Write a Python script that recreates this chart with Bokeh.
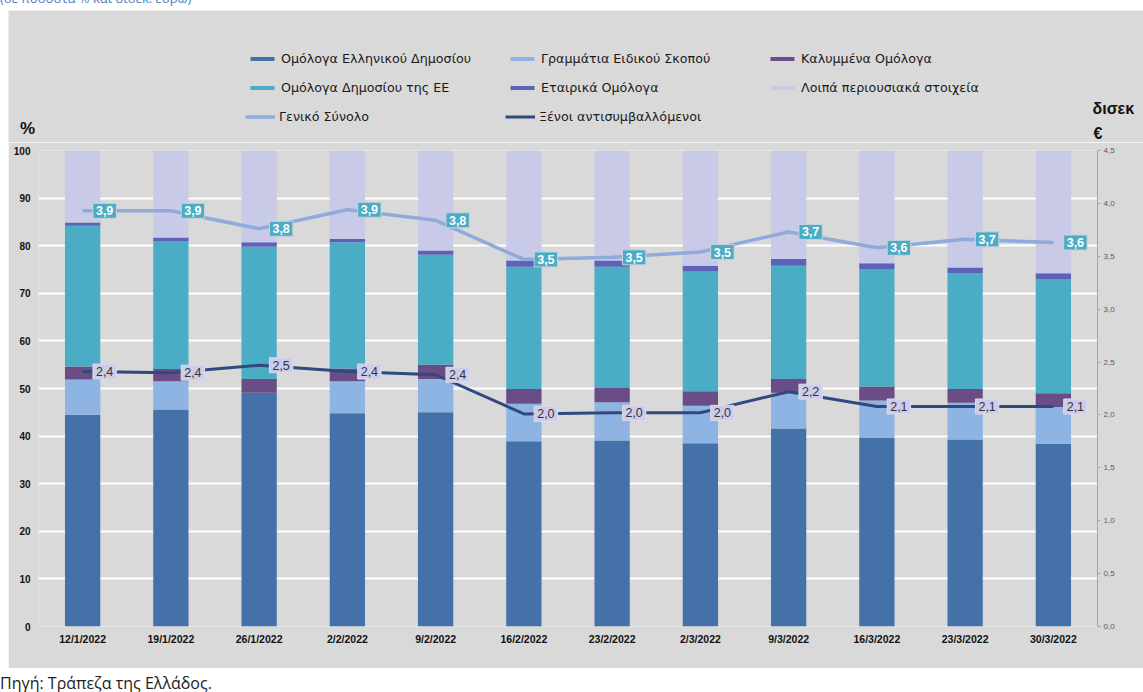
from bokeh.plotting import figure
from bokeh.models import (ColumnDataSource, Range1d, LinearAxis, FixedTicker, Legend, LegendItem,
                          Label, CustomJSTickFormatter, Div, Spacer)
from bokeh.layouts import column, row
from bokeh.core.properties import value
from bokeh.embed import file_html
from bokeh.resources import INLINE

dates = ["12/1/2022", "19/1/2022", "26/1/2022", "2/2/2022", "9/2/2022", "16/2/2022",
         "23/2/2022", "2/3/2022", "9/3/2022", "16/3/2022", "23/3/2022", "30/3/2022"]
greek_bonds = [44.5, 45.6, 49.1, 44.8, 45.0, 38.9, 39.1, 38.5, 41.6, 39.6, 39.3, 38.4]
special_bills = [7.4, 5.9, 0.0, 6.7, 7.0, 7.9, 8.0, 7.9, 7.5, 7.9, 7.7, 7.7]
covered_bonds = [2.7, 2.6, 2.9, 2.7, 3.0, 3.1, 3.0, 3.0, 2.9, 2.9, 2.9, 2.9]
eu_bonds = [29.6, 26.8, 27.8, 26.5, 23.1, 25.7, 25.5, 25.2, 23.8, 24.6, 24.3, 23.9]
corporate_bonds = [0.7, 0.8, 0.9, 0.7, 0.9, 1.3, 1.3, 1.2, 1.4, 1.3, 1.2, 1.3]
other_assets = [15.1, 18.3, 19.3, 18.6, 21.0, 23.1, 23.1, 24.2, 22.8, 23.7, 24.6, 25.8]
total_bn = [3.93, 3.93, 3.76, 3.94, 3.84, 3.47, 3.49, 3.54, 3.73, 3.58, 3.66, 3.63]
foreign_bn = [2.41, 2.40, 2.47, 2.41, 2.38, 2.01, 2.02, 2.02, 2.22, 2.08, 2.08, 2.08]

names = ["Ομόλογα Ελληνικού Δημοσίου", "Γραμμάτια Ειδικού Σκοπού", "Καλυμμένα Ομόλογα",
         "Ομόλογα Δημοσίου της ΕΕ", "Εταιρικά Ομόλογα", "Λοιπά περιουσιακά στοιχεία"]
line_names = ["Γενικό Σύνολο", "Ξένοι αντισυμβαλλόμενοι"]
keys = ["greek", "bills", "covered", "eu", "corp", "other"]
colors = ["#4472A8", "#8EB4E3", "#6A4C87", "#4BACC6", "#5C62B8", "#C9CAE8"]
line_colors = ["#8FAADB", "#2E4A7E"]

BG = "#D9D9D9"
FONT = "Liberation Sans"

src = ColumnDataSource(dict(
    date=dates, greek=greek_bonds, bills=special_bills, covered=covered_bonds,
    eu=eu_bonds, corp=corporate_bonds, other=other_assets,
    total=total_bn, foreign=foreign_bn,
    total_lbl=[f"{v:.1f}".replace(".", ",") for v in total_bn],
    foreign_lbl=[f"{v:.1f}".replace(".", ",") for v in foreign_bn],
))

# ---------------- main chart ----------------
p = figure(x_range=dates, y_range=Range1d(0, 100), width=1135, height=526,
           output_backend="svg", toolbar_location=None, frame_align=False,
           min_border_left=30, min_border_right=46, min_border_top=8, min_border_bottom=42)
p.extra_y_ranges = {"right": Range1d(0, 4.5)}
p.background_fill_color = BG
p.border_fill_color = BG
p.outline_line_color = None

p.vbar_stack(keys, x="date", width=0.4, color=colors, source=src, line_color=None)
p.line("date", "total", source=src, y_range_name="right", color=line_colors[0], line_width=3.5)
p.line("date", "foreign", source=src, y_range_name="right", color=line_colors[1], line_width=3)

p.text("date", "total", text="total_lbl", source=src, y_range_name="right",
       x_offset=22, text_align="center", text_baseline="middle",
       text_font=value(FONT), text_font_size="12.5px", text_font_style="bold", text_color="white",
       background_fill_color="#4BACC6", border_line_color="#C9D3DA", border_line_width=1,
       padding=3)
p.text("date", "foreign", text="foreign_lbl", source=src, y_range_name="right",
       x_offset=22, text_align="center", text_baseline="middle",
       text_font=value(FONT), text_font_size="12.5px", text_color="#333333",
       background_fill_color="#CDCDEB", border_line_color="#DCDCE8", border_line_width=1,
       padding=3)

p.xgrid.grid_line_color = None
p.ygrid.grid_line_color = "white"
p.ygrid.grid_line_width = 2
p.yaxis.ticker = FixedTicker(ticks=list(range(0, 101, 10)))
p.yaxis.axis_line_color = None
p.yaxis.major_tick_line_color = None
p.yaxis.major_tick_out = 0
p.yaxis.major_tick_in = 0
p.yaxis.minor_tick_line_color = None
p.yaxis.major_label_text_font = FONT
p.yaxis.major_label_text_font_style = "bold"
p.yaxis.major_label_text_font_size = "10px"
p.yaxis.major_label_text_color = "#111111"
p.yaxis.major_label_standoff = 8

p.xaxis.axis_line_color = None
p.xaxis.major_tick_line_color = None
p.xaxis.major_tick_out = 0
p.xaxis.major_tick_in = 0
p.xaxis.major_label_text_font = FONT
p.xaxis.major_label_text_font_style = "bold"
p.xaxis.major_label_text_font_size = "10.5px"
p.xaxis.major_label_text_color = "#111111"
p.xaxis.major_label_standoff = 6

ry = LinearAxis(y_range_name="right", ticker=FixedTicker(ticks=[0, 0.5, 1, 1.5, 2, 2.5, 3, 3.5, 4, 4.5]),
                formatter=CustomJSTickFormatter(code="return tick.toFixed(1).replace('.', ',');"))
ry.axis_line_color = "#A6A6A6"
ry.major_tick_line_color = "#A6A6A6"
ry.major_tick_in = 0
ry.major_tick_out = 3
ry.minor_tick_line_color = None
ry.major_label_text_font = FONT
ry.major_label_text_font_size = "8px"
ry.major_label_text_color = "#595959"
ry.major_label_standoff = 3
p.add_layout(ry, "right")

# ---------------- header strip: legend + unit labels ----------------
top = figure(x_range=Range1d(8, 1143), y_range=Range1d(142, 10), width=1135, height=132,
             output_backend="svg", toolbar_location=None, x_axis_type=None, y_axis_type=None,
             min_border=0, frame_align=False)
top.background_fill_color = BG
top.border_fill_color = BG
top.outline_line_color = None
top.grid.grid_line_color = None

# hidden proxies that only give the legend its swatches
swatches = [top.vbar(x="total", top="total", width=0.01, source=src, color=c, line_color=None,
                     visible=False) for c in colors]
line_sw = [top.line("total", "total", source=src, color=line_colors[0], line_width=3.5, visible=False),
           top.line("foreign", "foreign", source=src, color=line_colors[1], line_width=3, visible=False)]

rows_items = [
    [(names[0], swatches[0]), (names[1], swatches[1]), (names[2], swatches[2])],
    [(names[3], swatches[3]), (names[4], swatches[4]), (names[5], swatches[5])],
    [(line_names[0], line_sw[0]), (line_names[1], line_sw[1])],
]
row_pos = [(239, 76), (239, 47), (237, 18)]
for items, loc in zip(rows_items, row_pos):
    lg = Legend(items=[LegendItem(label=n, renderers=[r]) for n, r in items],
                orientation="horizontal", location=loc,
                glyph_width=30, glyph_height=5, label_height=5, label_width=222,
                label_standoff=4, spacing=4, padding=0, margin=0,
                border_line_color=None, background_fill_alpha=0, inactive_fill_alpha=0,
                label_text_font="DejaVu Sans", label_text_font_size="12.7px",
                label_text_color="#1a1a1a", label_text_baseline="middle")
    top.add_layout(lg, "center")

top.add_layout(Label(x=27, y=128, text="%", text_align="center", text_baseline="middle",
                     text_font=FONT, text_font_size="17px", text_font_style="bold",
                     text_color="#111111"))
top.add_layout(Label(x=1092, y=108, text="δισεκ", text_align="left", text_baseline="middle",
                     text_font=FONT, text_font_size="16px", text_font_style="bold",
                     text_color="#111111"))
top.add_layout(Label(x=1093, y=133, text="€", text_align="left", text_baseline="middle",
                     text_font=FONT, text_font_size="16px", text_font_style="bold",
                     text_color="#111111"))

# ---------------- page texts ----------------
title_div = Div(
    text='<div style="position:relative; top:-9px; left:0px; white-space:nowrap; '
         'font-family:\'Open Sans\', sans-serif; font-size:13px; line-height:14px; '
         'color:#4A7EBB;">(σε ποσοστά % και δισεκ. ευρώ)</div>',
    width=1143, height=10, margin=0, styles={"overflow": "hidden"})

src_div = Div(text="Πηγή: Τράπεζα της Ελλάδος.", width=1143, height=24, margin=0,
              styles={"font-family": "'Liberation Sans Narrow', 'Open Sans', sans-serif",
                      "font-size": "16px", "color": "#222222",
                      "line-height": "17px", "padding-top": "7px", "box-sizing": "border-box"})

layout = column(title_div, row(Spacer(width=8, height=658), column(top, p, spacing=0), spacing=0),
                src_div, spacing=0)
open("out.html", "w").write(file_html(layout, INLINE))
